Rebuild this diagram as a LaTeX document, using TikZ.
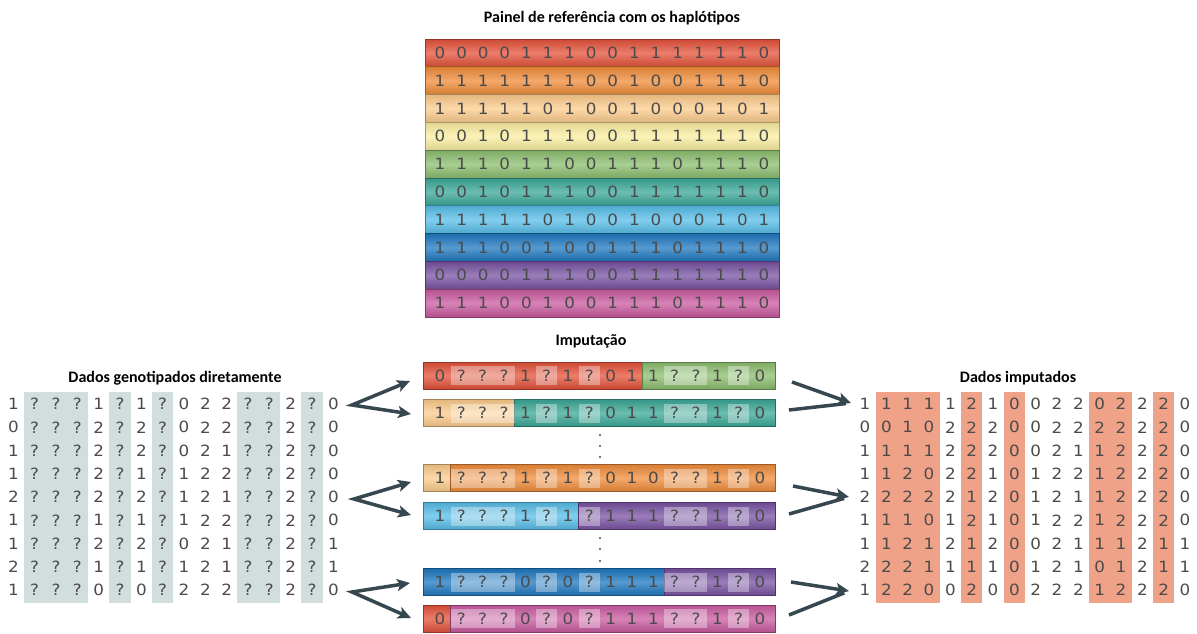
\documentclass[tikz,border=0pt]{standalone}
\usepackage{fontspec}
\setmainfont{Carlito}
\newfontfamily\digf{DejaVu Sans}[FakeStretch=1.08]
\usetikzlibrary{arrows.meta}
\definecolor{cRed}{RGB}{228,82,58}
\definecolor{cOrange}{RGB}{240,140,58}
\definecolor{cPeach}{RGB}{252,204,140}
\definecolor{cYellow}{RGB}{250,238,160}
\definecolor{cGreen}{RGB}{140,190,110}
\definecolor{cTeal}{RGB}{58,168,150}
\definecolor{cLBlue}{RGB}{88,190,232}
\definecolor{cBlue}{RGB}{30,120,192}
\definecolor{cPurple}{RGB}{120,82,162}
\definecolor{cPink}{RGB}{202,90,160}
\definecolor{digc}{RGB}{75,75,75}
\definecolor{arrc}{RGB}{55,71,79}
\definecolor{greybar}{RGB}{210,222,222}
\definecolor{salmon}{RGB}{240,162,136}
\begin{document}
\begin{tikzpicture}[x=1pt,y=-1pt,
  dig/.style={font=\digf\fontsize{15.5}{15.5}\selectfont, text=digc, inner sep=0pt, anchor=center},
  ttl/.style={font=\bfseries\fontsize{16}{16}\selectfont, inner sep=0pt},
  band/.style={draw=#1!65!black, line width=0.8pt, top color=#1!90!black, bottom color=#1!88!black, middle color=#1!75!white, inner sep=0pt, outer sep=0pt},
  qbox/.style={fill=white, fill opacity=0.35, draw=none},
  flow/.style={draw=arrc, line width=3.5pt, line join=miter},
  onetip/.style={-{Stealth[length=13pt,width=12pt,inset=3pt]}},
  twotips/.style={{Stealth[length=13pt,width=12pt,inset=3pt]}-{Stealth[length=13pt,width=12pt,inset=3pt]}},
  dotn/.style={circle, fill=digc, inner sep=0pt, minimum size=2.2pt},
]
\fill[white] (0,0) rectangle (1197,633);
\useasboundingbox (0,0) rectangle (1197,633);

% titles
\node[ttl] (t1) at (612,18) {Painel de referência com os haplótipos};
\node[ttl] (t2) at (591,341) {Imputação};
\node[ttl] (t3) at (175,378) {Dados genotipados diretamente};
\node[ttl] (t4) at (1018,378) {Dados imputados};

% reference panel
\foreach \i/\c/\bits in {
 1/cRed/{0,0,0,0,1,1,1,0,0,1,1,1,1,1,1,0},
 2/cOrange/{1,1,1,1,1,1,1,0,0,1,0,0,1,1,1,0},
 3/cPeach/{1,1,1,1,1,0,1,0,0,1,0,0,0,1,0,1},
 4/cYellow/{0,0,1,0,1,1,1,0,0,1,1,1,1,1,1,0},
 5/cGreen/{1,1,1,0,1,1,0,0,1,1,1,0,1,1,1,0},
 6/cTeal/{0,0,1,0,1,1,1,0,0,1,1,1,1,1,1,0},
 7/cLBlue/{1,1,1,1,1,0,1,0,0,1,0,0,0,1,0,1},
 8/cBlue/{1,1,1,0,0,1,0,0,1,1,1,0,1,1,1,0},
 9/cPurple/{0,0,0,0,1,1,1,0,0,1,1,1,1,1,1,0},
 10/cPink/{1,1,1,0,0,1,0,0,1,1,1,0,1,1,1,0}}{
  \pgfmathsetmacro\yc{39+27.8*(\i-0.5)}
  \node[band=\c, minimum width=354pt, minimum height=27.8pt] (ref\i) at (602,\yc) {};
  \foreach \d [count=\k] in \bits
    \node[dig] (ref\i-\k) at ({440+21.6*(\k-1)},\yc) {\d};
}

% imputation rows
\foreach \n/\yc/\s/\cl/\cr/\bits in {
 A/375.5/10/cRed/cGreen/{0,?,?,?,1,?,1,?,0,1,1,?,?,1,?,0},
 B/413/4/cPeach/cTeal/{1,?,?,?,1,?,1,?,0,1,1,?,?,1,?,0},
 C/478/1/cPeach/cOrange/{1,?,?,?,1,?,1,?,0,1,0,?,?,1,?,0},
 D/516/7/cLBlue/cPurple/{1,?,?,?,1,?,1,?,1,1,1,?,?,1,?,0},
 E/582/11/cBlue/cPurple/{1,?,?,?,0,?,0,?,1,1,1,?,?,1,?,0},
 F/618.5/1/cRed/cPink/{0,?,?,?,0,?,0,?,1,1,1,?,?,1,?,0}}{
  \pgfmathsetmacro\xs{440+21.333*(\s-0.5)}
  \pgfmathsetmacro\wl{\xs-423}
  \pgfmathsetmacro\wr{775-\xs}
  \node[band=\cl, minimum width=\wl pt, minimum height=27pt, anchor=east] (imp\n-l) at (\xs,\yc) {};
  \node[band=\cr, minimum width=\wr pt, minimum height=27pt, anchor=west] (imp\n-r) at (\xs,\yc) {};
  \foreach \a/\b in {2/4,6/6,8/8,12/13,15/15}
    \fill[qbox] ({440+21.333*(\a-1)-10.667},{\yc-9.5}) rectangle ({440+21.333*(\b-1)+10.667},{\yc+9.5});
  \foreach \d [count=\k] in \bits
    \node[dig] (imp\n-\k) at ({440+21.333*(\k-1)},\yc) {\d};
}

% vertical dots
\foreach \y [count=\m] in {435,446,457,538,549,561}
  \node[dotn] (dot\m) at (600,\y) {};

% genotyped data
\foreach \a/\b in {2/4,6/6,8/8,12/13,15/15}
  \fill[greybar] ({13.333+21.333*(\a-1)-10.667},392) rectangle ({13.333+21.333*(\b-1)+10.667},603);
\foreach \bits [count=\j] in {
 {1,?,?,?,1,?,1,?,0,2,2,?,?,2,?,0},
 {0,?,?,?,2,?,2,?,0,2,2,?,?,2,?,0},
 {1,?,?,?,2,?,2,?,0,2,1,?,?,2,?,0},
 {1,?,?,?,2,?,1,?,1,2,2,?,?,2,?,0},
 {2,?,?,?,2,?,2,?,1,2,1,?,?,2,?,0},
 {1,?,?,?,1,?,1,?,1,2,2,?,?,2,?,0},
 {1,?,?,?,2,?,2,?,0,2,1,?,?,2,?,1},
 {2,?,?,?,1,?,1,?,1,2,1,?,?,2,?,1},
 {1,?,?,?,0,?,0,?,2,2,2,?,?,2,?,0}}{
  \foreach \d [count=\k] in \bits
    \node[dig] (g\j-\k) at ({13.333+21.333*(\k-1)},{404+23.25*(\j-1)}) {\d};
}

% imputed data
\foreach \a/\b in {2/4,6/6,8/8,12/13,15/15}
  \fill[salmon] ({865+21.333*(\a-1)-10.667},392) rectangle ({865+21.333*(\b-1)+10.667},603);
\foreach \bits [count=\j] in {
 {1,1,1,1,1,2,1,0,0,2,2,0,2,2,2,0},
 {0,0,1,0,2,2,2,0,0,2,2,2,2,2,2,0},
 {1,1,1,1,2,2,2,0,0,2,1,1,2,2,2,0},
 {1,1,2,0,2,2,1,0,1,2,2,1,2,2,2,0},
 {2,2,2,2,2,1,2,0,1,2,1,1,2,2,2,0},
 {1,1,1,0,1,2,1,0,1,2,2,1,2,2,2,0},
 {1,1,2,1,2,1,2,0,0,2,1,1,1,2,1,1},
 {2,2,2,1,1,1,1,0,1,2,1,0,1,2,1,1},
 {1,2,2,0,0,2,0,0,2,2,2,1,2,2,2,0}}{
  \foreach \d [count=\k] in \bits
    \node[dig] (m\j-\k) at ({865+21.333*(\k-1)},{404+23.25*(\j-1)}) {\d};
}

% left arrows (fan out)
\coordinate (lv1) at (352,405); \coordinate (lu1) at (410,381); \coordinate (ld1) at (411,414);
\coordinate (lv2) at (354,499); \coordinate (lu2) at (411,482); \coordinate (ld2) at (411,515);
\coordinate (lv3) at (352,592); \coordinate (lu3) at (410,583); \coordinate (ld3) at (411,618);
\foreach \p in {1,2,3}
  \draw[flow, twotips] (lu\p) -- (lv\p) -- (ld\p);

% right arrows (merge)
\coordinate (ru1) at (792,382); \coordinate (rd1) at (789,410); \coordinate (rt1) at (851,403);
\coordinate (ru2) at (793,486); \coordinate (rd2) at (789,514); \coordinate (rt2) at (849,497);
\coordinate (ru3) at (791,582); \coordinate (rd3) at (789,615); \coordinate (rt3) at (849,591);
\foreach \p in {1,2,3}{
  \draw[flow, onetip] (ru\p) -- (rt\p);
  \draw[flow, shorten >=5pt] (rd\p) -- (rt\p);
}
\end{tikzpicture}
\end{document}
